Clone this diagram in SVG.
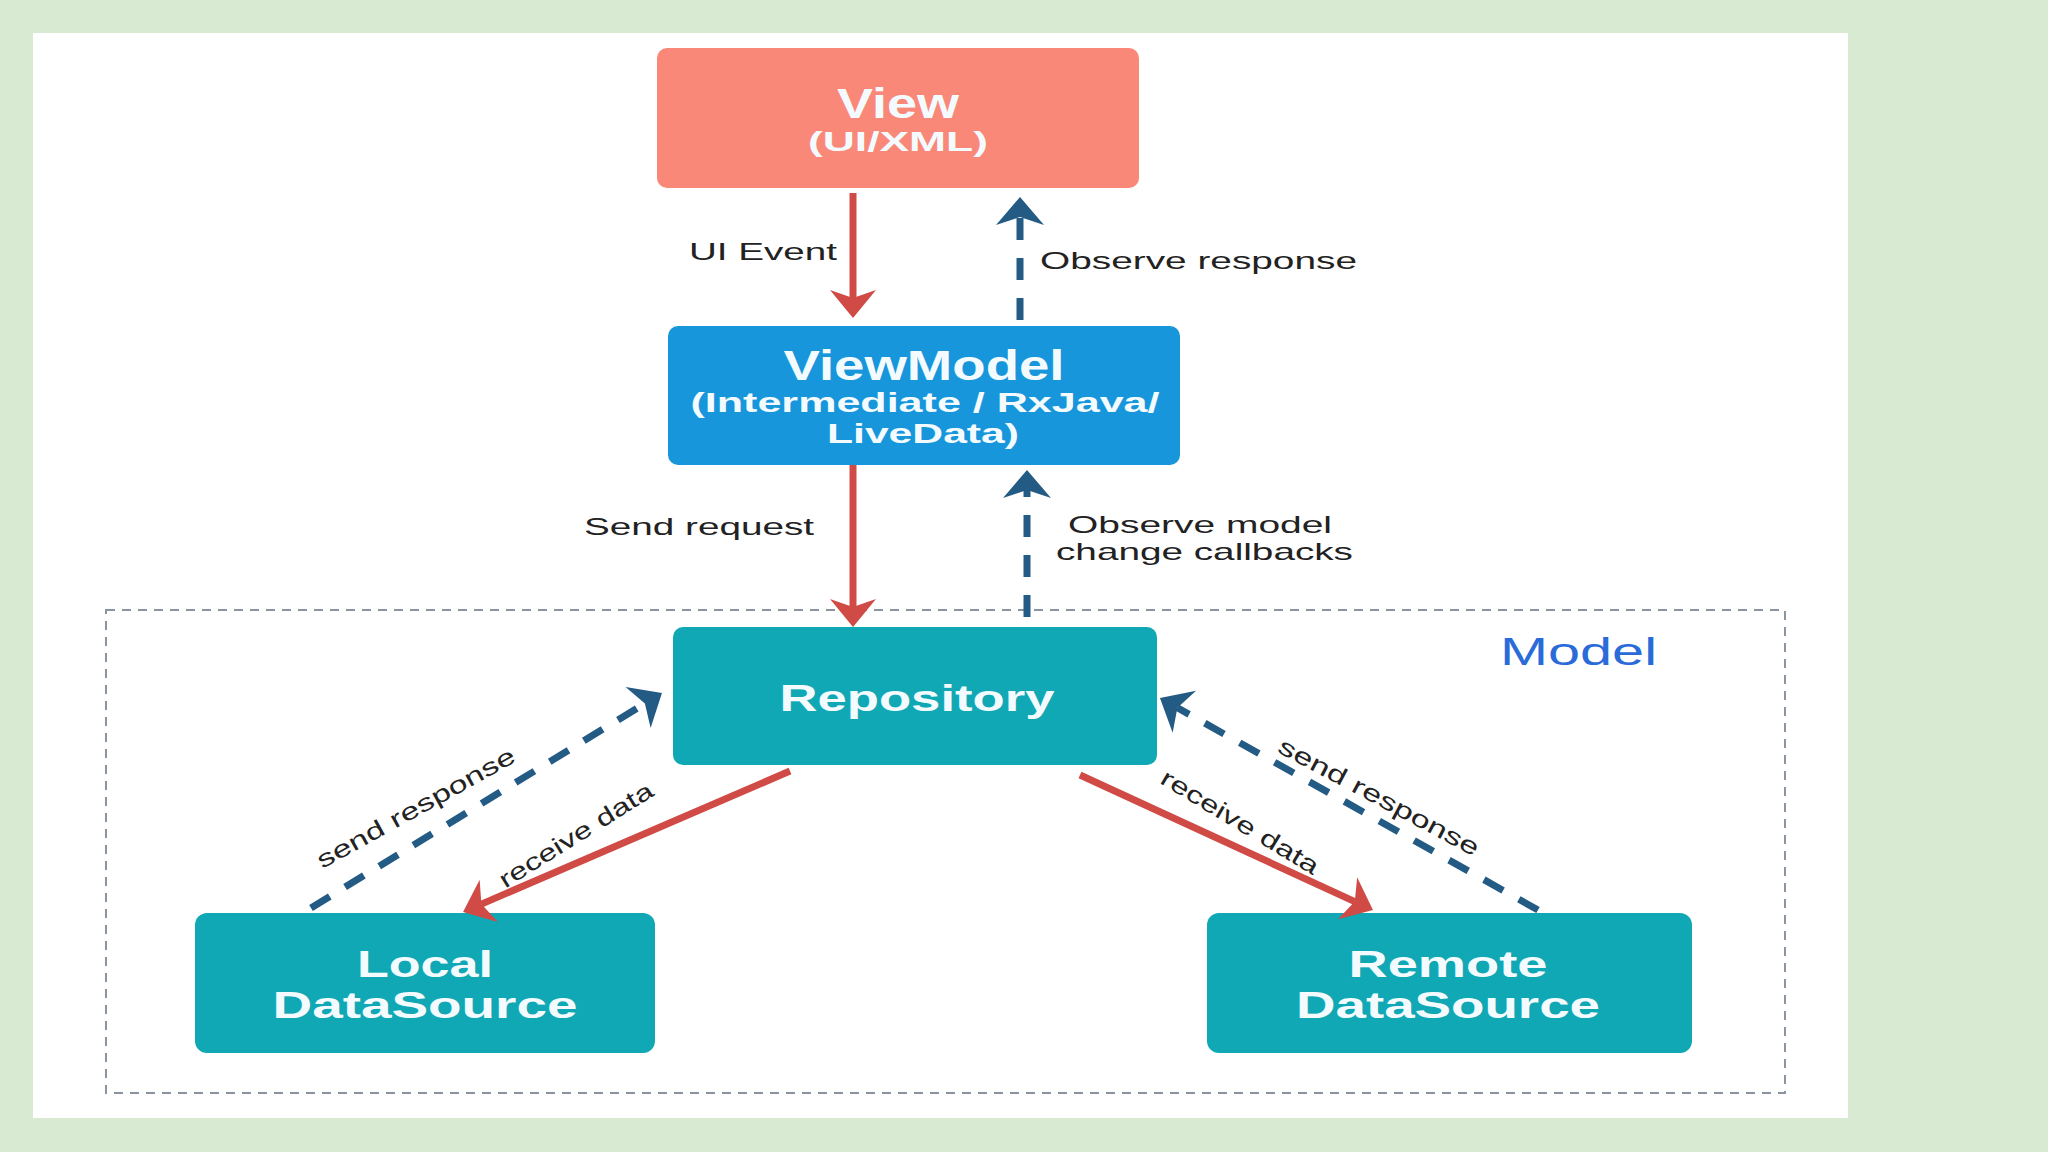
<svg xmlns="http://www.w3.org/2000/svg" width="2048" height="1152" viewBox="0 0 2048 1152">
<style>
.box{stroke:none}
.bt{font-family:"Liberation Sans",Arial,sans-serif;font-weight:bold;fill:#f4fbff;text-anchor:middle}
.lbl{font-family:"Liberation Sans",Arial,sans-serif;font-size:24px;fill:#222}
.red{fill:none;stroke:#d04a46;stroke-width:7}
.dash{fill:none;stroke:#235b85;stroke-width:7;stroke-dasharray:22 18}
</style>
<defs>
<marker id="ahr" markerUnits="userSpaceOnUse" viewBox="-2 -26 34 52" refX="8" refY="0" markerWidth="34" markerHeight="52" orient="auto">
<path d="M0,-23 L28,0 L0,23 L8,0 Z" fill="#d04a46"/>
</marker>
<marker id="ahb" markerUnits="userSpaceOnUse" viewBox="-2 -26 34 52" refX="8" refY="0" markerWidth="34" markerHeight="52" orient="auto">
<path d="M0,-24 L28,0 L0,24 L8,0 Z" fill="#235b85"/>
</marker>
</defs>
<rect x="0" y="0" width="2048" height="1152" fill="#d9ead3"/>
<rect x="33" y="33" width="1815" height="1085" fill="#ffffff"/>
<g id="model-boundary">
<rect x="106" y="610" width="1679" height="483" fill="none" stroke="#8a94a0" stroke-width="2" stroke-dasharray="9 7"/>
<text x="1500" y="665" font-family="'Liberation Sans',Arial,sans-serif" font-size="39" fill="#2a6bd9" textLength="157" lengthAdjust="spacingAndGlyphs">Model</text>
</g>
<g id="view">
<rect class="box" x="657" y="48" width="482" height="140" rx="10" fill="#fa8878"/>
<text class="bt" x="898" y="118" font-size="42" textLength="122" lengthAdjust="spacingAndGlyphs">View</text>
<text class="bt" x="898" y="151" font-size="27" textLength="180" lengthAdjust="spacingAndGlyphs">(UI/XML)</text>
</g>
<g id="viewmodel">
<rect class="box" x="668" y="326" width="512" height="139" rx="10" fill="#1796db"/>
<text class="bt" x="924" y="380" font-size="42" textLength="281" lengthAdjust="spacingAndGlyphs">ViewModel</text>
<text class="bt" x="925" y="412" font-size="27" textLength="469" lengthAdjust="spacingAndGlyphs">(Intermediate / RxJava/</text>
<text class="bt" x="923" y="443" font-size="27" textLength="192" lengthAdjust="spacingAndGlyphs">LiveData)</text>
</g>
<g id="repository">
<rect class="box" x="673" y="627" width="484" height="138" rx="10" fill="#0fa8b4"/>
<text class="bt" x="917" y="711" font-size="36" textLength="275" lengthAdjust="spacingAndGlyphs">Repository</text>
</g>
<g id="local">
<rect class="box" x="195" y="913" width="460" height="140" rx="12" fill="#0fa8b4"/>
<text class="bt" x="425" y="977" font-size="36" textLength="136" lengthAdjust="spacingAndGlyphs">Local</text>
<text class="bt" x="425" y="1018" font-size="36" textLength="305" lengthAdjust="spacingAndGlyphs">DataSource</text>
</g>
<g id="remote">
<rect class="box" x="1207" y="913" width="485" height="140" rx="12" fill="#0fa8b4"/>
<text class="bt" x="1448" y="977" font-size="36" textLength="199" lengthAdjust="spacingAndGlyphs">Remote</text>
<text class="bt" x="1448" y="1018" font-size="36" textLength="304" lengthAdjust="spacingAndGlyphs">DataSource</text>
</g>
<g id="connectors">
<line class="red" x1="853" y1="193" x2="853" y2="298" marker-end="url(#ahr)"/>
<line class="dash" x1="1020" y1="320" x2="1020" y2="217" marker-end="url(#ahb)"/>
<line class="red" x1="853" y1="465" x2="853" y2="607" marker-end="url(#ahr)"/>
<line class="dash" x1="1027" y1="617" x2="1027" y2="490" marker-end="url(#ahb)"/>
<line class="dash" x1="311" y1="908" x2="644.9" y2="703.4" marker-end="url(#ahb)"/>
<line class="red" x1="790" y1="771" x2="481.4" y2="904.1" marker-end="url(#ahr)"/>
<line class="red" x1="1080" y1="775" x2="1354.8" y2="901.6" marker-end="url(#ahr)"/>
<line class="dash" x1="1538" y1="910" x2="1177.4" y2="707.8" marker-end="url(#ahb)"/>
<text class="lbl" x="689" y="260" textLength="148" lengthAdjust="spacingAndGlyphs">UI Event</text>
<text class="lbl" x="1040" y="269" textLength="317" lengthAdjust="spacingAndGlyphs">Observe response</text>
<text class="lbl" x="584" y="535" textLength="230" lengthAdjust="spacingAndGlyphs">Send request</text>
<text class="lbl" x="1068" y="533" textLength="264" lengthAdjust="spacingAndGlyphs">Observe model</text>
<text class="lbl" x="1056" y="560" textLength="297" lengthAdjust="spacingAndGlyphs">change callbacks</text>
<text class="lbl" transform="translate(416,808) rotate(-29)" x="0" y="8" text-anchor="middle" textLength="223" lengthAdjust="spacingAndGlyphs">send response</text>
<text class="lbl" transform="translate(576,835) rotate(-32)" x="0" y="8" text-anchor="middle" textLength="177" lengthAdjust="spacingAndGlyphs">receive data</text>
<text class="lbl" transform="translate(1240,822) rotate(31)" x="0" y="8" text-anchor="middle" textLength="180" lengthAdjust="spacingAndGlyphs">receive data</text>
<text class="lbl" transform="translate(1379,797) rotate(28)" x="0" y="8" text-anchor="middle" textLength="224" lengthAdjust="spacingAndGlyphs">send response</text>
</g>
</svg>
